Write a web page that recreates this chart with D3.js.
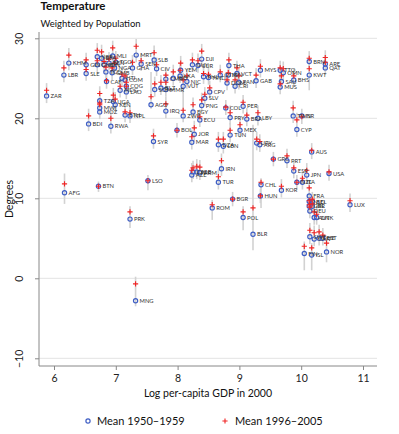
<!DOCTYPE html>
<html><head><meta charset="utf-8">
<script src="https://cdn.jsdelivr.net/npm/d3@7"></script>
<style>body{margin:0;background:#fff} text{font-family:Lato,"Open Sans",sans-serif}</style>
</head><body><svg id="c" width="399" height="434"></svg>
<script>
const codes = ["KHM","LBR","ZAR","SLE","GIN","NER","BFA","MLI","MRT","GNB","SDN","BEN","TGO","NGA","GHA","SEN","TCD","GMB","SLB","CAF","COM","HTI","COG","MDG","LAO","AGO","TZA","UGA","KEN","MWI","MOZ","NPL","ETH","BDI","RWA","CIV","YEM","DJI","SUR","GUY","THA","IND","LKA","NIC","VUT","PHL","HND","GTM","IDN","VCT","PAN","DOM","CRI","GAB","MYS","TTO","OMN","SAU","BHS","MUS","BRN","KWT","ARE","QAT","TWN","ISR","CYP","IRQ","PNG","CPV","SLV","EGY","ZWE","ECU","COL","PER","PRY","BRA","LBY","MEX","BOL","JOR","MAR","SYR","TUN","DZA","LBN","URY","ARG","GRC","PRT","CHN","ALB","ARM","AZE","IRN","TUR","CHL","HUN","KOR","BGR","ROM","POL","BLR","AUS","USA","ESP","JPN","ITA","NZL","FRA","NLD","BEL","GBR","IRL","DEU","AUT","DNK","LUX","SWE","CAN","CHE","EST","FIN","ISL","NOR","AFG","BTN","LSO","PRK","MNG","CMR","SOM","MMR","BLZ"];
const gdp = [6.24,6.16,5.88,6.52,6.52,6.70,6.77,6.95,7.33,6.70,6.81,6.89,7.00,6.98,7.27,7.41,6.84,6.94,7.62,6.85,7.15,7.10,7.17,7.07,7.17,7.57,6.74,6.96,6.99,6.74,6.74,7.23,7.15,6.56,6.92,7.66,8.05,8.39,8.33,8.24,8.83,7.93,8.04,8.15,8.09,8.42,8.50,8.69,8.82,8.96,8.99,8.80,8.93,9.27,9.34,9.66,9.71,9.68,9.88,9.66,10.13,10.13,10.39,10.39,9.87,10.01,9.93,7.81,8.39,8.52,8.44,8.25,8.09,8.36,8.78,9.06,8.85,9.12,9.30,9.01,7.99,8.27,8.23,7.61,8.85,8.66,8.74,9.28,9.33,9.55,9.77,8.25,8.31,8.36,8.23,8.71,8.66,9.35,9.34,9.68,8.89,8.56,9.06,9.22,10.17,10.45,9.88,10.09,10.02,9.93,10.13,10.13,10.18,10.13,10.18,10.14,10.21,10.25,10.79,10.14,10.21,10.29,10.35,10.05,10.17,10.41,6.17,6.72,7.52,7.23,7.32,7.81,7.63,7.81,7.73];
const temp1950 = [26.9,25.4,22.8,25.6,26.7,27.7,27.5,27.8,27.9,26.7,26.7,26.9,27.0,26.3,26.3,26.8,25.8,25.7,27.3,24.6,24.8,25.0,24.0,23.5,23.3,21.7,22.2,22.1,21.7,21.3,20.8,20.3,20.4,19.3,19.0,26.2,26.0,27.4,26.6,26.7,26.6,25.0,25.3,24.6,24.0,25.2,25.1,25.4,25.4,25.6,24.5,24.4,24.0,24.7,26.0,26.0,25.7,24.6,24.8,23.9,27.1,25.4,26.8,26.3,20.3,20.3,18.6,20.9,21.6,23.3,22.5,20.8,20.3,19.8,21.3,21.5,20.1,19.9,20.0,18.5,18.5,18.0,17.0,17.1,17.9,16.7,16.5,16.9,16.7,14.9,14.7,13.3,13.3,13.2,12.9,13.7,12.0,11.7,10.3,11.0,9.9,8.8,7.6,5.5,15.8,13.1,13.4,12.9,12.0,12.0,10.3,9.6,9.6,9.0,9.0,8.4,7.6,7.6,9.2,5.2,4.9,5.0,5.0,3.1,2.9,3.3,10.7,11.5,12.2,7.4,-2.8,24.9,23.6,23.6,23.8];
const temp2000 = [27.9,26.3,23.5,26.1,27.3,28.5,28.3,28.8,29.0,27.2,27.1,27.4,27.5,26.9,27.0,27.2,26.4,26.3,28.2,24.7,25.3,25.5,24.5,24.0,24.0,22.7,23.1,22.9,22.4,21.9,21.7,20.7,20.8,20.3,20.0,26.7,26.9,28.4,27.2,27.3,27.3,25.8,26.0,25.3,24.8,25.6,25.5,25.8,25.7,26.3,25.3,24.8,24.8,25.4,26.5,26.3,26.2,25.3,25.3,24.3,27.5,26.2,27.6,27.0,21.3,20.2,19.8,21.8,22.3,23.8,23.0,21.7,21.0,20.2,21.4,22.0,20.7,20.4,20.7,19.2,18.5,18.8,17.7,17.8,18.5,17.4,17.4,17.4,17.1,14.9,15.3,13.8,14.0,13.9,13.5,14.7,12.7,12.0,10.3,11.5,9.9,9.2,8.3,8.8,16.0,13.3,13.8,13.5,12.5,12.0,11.3,9.7,9.9,9.2,9.3,8.9,8.3,8.0,9.7,6.0,5.7,5.8,5.4,4.0,3.8,4.4,11.8,11.5,12.2,8.3,-0.7,25.4,24.3,24.5,24.5];
const longLines = [["AGO",21.2,25.8],["BLR",3.5,19.2],["KWT",23.5,27.8],["FIN",1.0,4.6],["ISL",1.0,4.4],["CHL",8.8,12.5],["POL",6.0,9.0],["ROM",7.3,9.8],["AFG",9.3,13.1],["MNG",-3.5,0.2],["ZWE",19.5,24.0],["NOR",2.0,4.8],["LSO",11.0,12.9],["PRK",6.3,9.0],["BTN",10.8,12.1]];
const xTicks = [6,7,8,9,10,11];
const yTicks = [-10,0,10,20,30];
const title = "Temperature", subtitle = "Weighted by Population";
const xTitle = "Log per-capita GDP in 2000", yTitle = "Degrees";
const legendLabels = ["Mean 1950\u20131959","Mean 1996\u20132005"];

const svg = d3.select("#c");
const x = d3.scaleLinear().domain([6,11]).range([54,363]);
const y = d3.scaleLinear().domain([-10,30]).range([358.3,38.3]);
const L = 39, R = 377, T = 32, B = 366;
const blue = "#3f5ec4", red = "#f02424", gray = "#d2d2d2";

// grid
svg.append("g").selectAll("line").data(yTicks).join("line")
  .attr("x1",L).attr("x2",R).attr("y1",d=>y(d)).attr("y2",d=>y(d))
  .attr("stroke","#e3e3e3").attr("stroke-width",1);

// axes
const ya = svg.append("g").attr("transform",`translate(${L},0)`)
  .call(d3.axisLeft(y).tickValues(yTicks).tickSize(4).tickFormat(d3.format("d")));
ya.select(".domain").remove();
ya.selectAll(".tick line").attr("stroke","#888");
ya.selectAll(".tick text").attr("transform","rotate(-90)").attr("x",0).attr("y",-16)
  .attr("dy","0").attr("text-anchor","middle").attr("font-size",10.5).attr("fill","#222");
const xa = svg.append("g").attr("transform",`translate(0,${B})`)
  .call(d3.axisBottom(x).tickValues(xTicks).tickSize(4).tickFormat(d3.format("d")));
xa.select(".domain").remove();
xa.selectAll(".tick line").attr("stroke","#888");
xa.selectAll(".tick text").attr("y",9).attr("font-size",10.5).attr("fill","#222");
svg.append("path").attr("d",`M${L},${T}V${B}H${R}`).attr("fill","none").attr("stroke","#888").attr("stroke-width",1);

const rows = codes.map((c,i)=>({c, g:gdp[i], a:temp1950[i], b:temp2000[i]}));
const ext = 0.9;
const lmap = new Map(longLines.map(d=>[d[0],[d[1],d[2]]]));
svg.append("g").selectAll("line").data(rows).join("line")
  .attr("x1",d=>x(d.g)).attr("x2",d=>x(d.g))
  .attr("y1",d=>y(lmap.has(d.c)?lmap.get(d.c)[0]:Math.min(d.a,d.b)-ext))
  .attr("y2",d=>y(lmap.has(d.c)?lmap.get(d.c)[1]:Math.max(d.a,d.b)+ext))
  .attr("stroke",gray).attr("stroke-width",1.6);
svg.append("g").selectAll("circle").data(rows).join("circle")
  .attr("cx",d=>x(d.g)).attr("cy",d=>y(d.a)).attr("r",2.1)
  .attr("fill","none").attr("stroke",blue).attr("stroke-width",1.2);
svg.append("g").selectAll("path").data(rows).join("path")
  .attr("d",d=>{const cx=x(d.g), cy=y(d.b); return `M${cx-2.6},${cy}H${cx+2.6}M${cx},${cy-2.6}V${cy+2.6}`;})
  .attr("stroke",red).attr("stroke-width",1.1);
svg.append("g").selectAll("text").data(rows).join("text")
  .attr("x",d=>x(d.g)+4).attr("y",d=>y(d.a)+2).attr("font-size",5.8).attr("fill","#333").text(d=>d.c);

// titles
svg.append("text").attr("x",40.5).attr("y",10).attr("font-size",11.5).attr("font-weight","bold").attr("fill","#111").text(title);
svg.append("text").attr("x",40.5).attr("y",26.5).attr("font-size",9.5).attr("fill","#111").text(subtitle);
svg.append("text").attr("x",(L+R)/2).attr("y",397).attr("text-anchor","middle").attr("font-size",10.5).attr("fill","#111").text(xTitle);
svg.append("text").attr("transform",`translate(13,${(T+B)/2}) rotate(-90)`).attr("text-anchor","middle").attr("font-size",10.5).attr("fill","#111").text(yTitle);

// legend
svg.append("circle").attr("cx",88).attr("cy",421).attr("r",2.1).attr("fill","none").attr("stroke",blue).attr("stroke-width",1.2);
svg.append("text").attr("x",97).attr("y",425).attr("font-size",11).attr("fill","#111").text(legendLabels[0]);
svg.append("path").attr("d","M222.4,421H227.6M225,418.4V423.6").attr("stroke",red).attr("stroke-width",1.1);
svg.append("text").attr("x",235).attr("y",425).attr("font-size",11).attr("fill","#111").text(legendLabels[1]);
</script></body></html>
